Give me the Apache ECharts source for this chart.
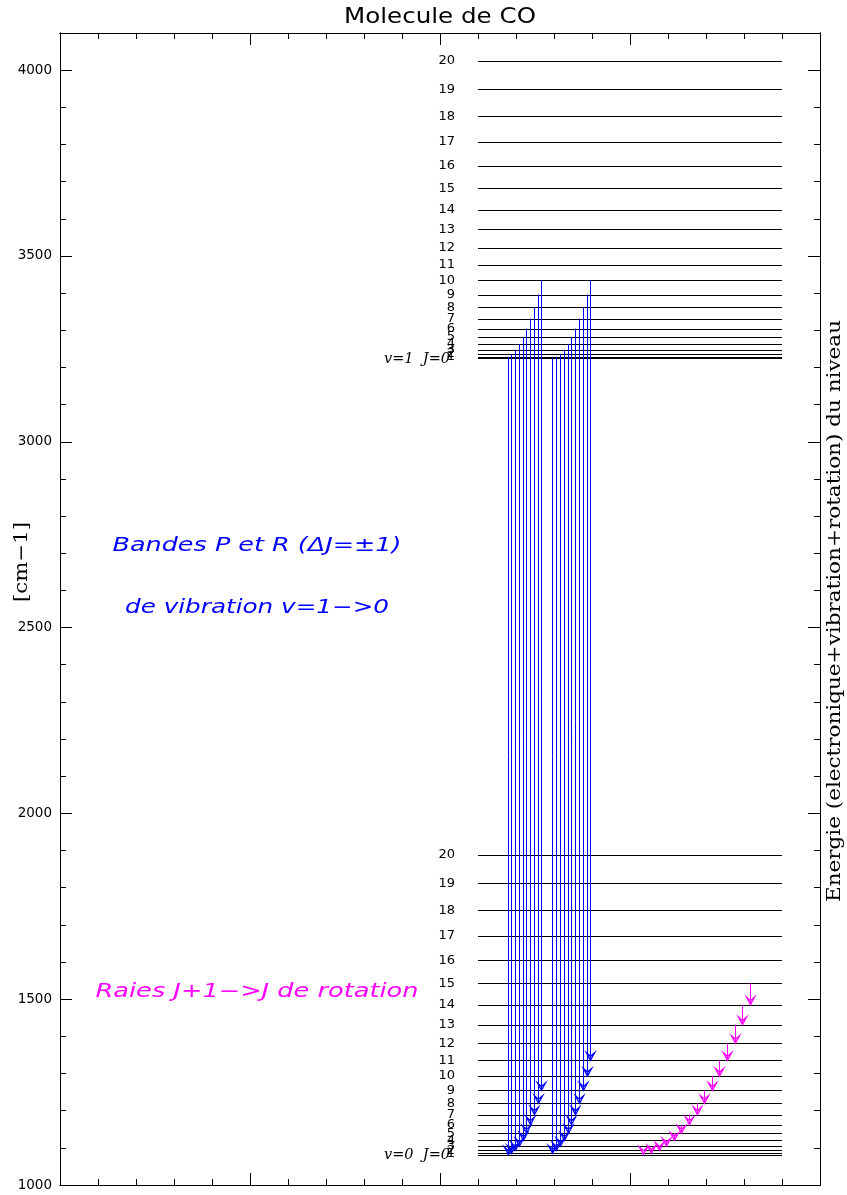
<!DOCTYPE html>
<html><head><meta charset="utf-8">
<script src="https://cdn.jsdelivr.net/npm/echarts@6/dist/echarts.min.js"></script>
<style>html,body{margin:0;padding:0;background:#fff}#c{width:847px;height:1195px}</style>
</head><body><div id="c"></div>
<script>
// ---------- DATA ----------
const J_VALUES = [0,1,2,3,4,5,6,7,8,9,10,11,12,13,14,15,16,17,18,19,20];
// energy of the rotational levels of v=0 (cm-1)
const E_V0 = [1081.6,1085.4,1093.1,1104.7,1120.1,1139.3,1162.3,1189.3,1220.0,1254.6,1293.1,
              1335.4,1381.5,1431.5,1485.3,1543.0,1604.5,1669.9,1739.1,1812.2,1889.1];
// energy of the rotational levels of v=1 (cm-1)
const E_V1 = [3224.7,3228.5,3236.1,3247.6,3262.8,3281.9,3304.7,3331.4,3361.9,3396.2,3434.2,
              3476.2,3521.9,3571.4,3624.8,3681.9,3742.9,3807.6,3876.2,3948.6,4024.8];
// vibrational transitions v=1 J' -> v=0 J'-1
const BRANCH1_UPPER_J = [1,2,3,4,5,6,7,8,9,10];
const BRANCH1_LOWER_J = [0,1,2,3,4,5,6,7,8,9];
// vibrational transitions v=1 J' -> v=0 J'+1
const BRANCH2_UPPER_J = [0,1,2,3,4,5,6,7,8,9,10];
const BRANCH2_LOWER_J = [1,2,3,4,5,6,7,8,9,10,11];
// pure rotation lines in v=0 : J+1 -> J
const ROT_UPPER_J = [1,2,3,4,5,6,7,8,9,10,11,12,13,14,15];
const ROT_LOWER_J = [0,1,2,3,4,5,6,7,8,9,10,11,12,13,14];
const Y_TICK_LABELS = ['1000','1500','2000','2500','3000','3500','4000'];

// ---------- LAYOUT ----------
const Y_MIN = 1000, Y_MAX = 4100;
const X_MIN = 0, X_MAX = 20;
const LEVEL_X0 = 11, LEVEL_X1 = 19;
const B1_X0 = 11.78, B1_DX = 0.099;
const B2_X0 = 12.96, B2_DX = 0.1;
const ROT_X0 = 15.35, ROT_DX = 0.2;
const BLUE = '#0000ff', MAGENTA = '#ff00ff';

const levelData = [];
J_VALUES.forEach((j, i) => { levelData.push([j, E_V0[i], 0]); levelData.push([j, E_V1[i], 1]); });
const b1Data = BRANCH1_UPPER_J.map((ju, i) => [B1_X0 + i * B1_DX, E_V1[ju], E_V0[BRANCH1_LOWER_J[i]]]);
const b2Data = BRANCH2_UPPER_J.map((ju, i) => [B2_X0 + i * B2_DX, E_V1[ju], E_V0[BRANCH2_LOWER_J[i]]]);
const rotData = ROT_UPPER_J.map((ju, i) => [ROT_X0 + i * ROT_DX, E_V0[ju], E_V0[ROT_LOWER_J[i]]]);

const px = v => Math.round(v) + 0.5;

function renderLevel(params, api) {
  const e = api.value(1);
  const a = api.coord([LEVEL_X0, e]), b = api.coord([LEVEL_X1, e]);
  const y = px(a[1]);
  return { type: 'line', shape: { x1: Math.round(a[0]), y1: y, x2: Math.round(b[0]), y2: y },
           style: { stroke: '#000', lineWidth: 1 } };
}
function renderLabel(params, api) {
  const j = api.value(0), e = api.value(1), v = api.value(2);
  const a = api.coord([LEVEL_X0, e]);
  if (j === 0) {
    return { type: 'text', x: a[0] - 28, y: a[1] + 1,
      style: { text: 'v=' + v + '  J=0', textAlign: 'right', textVerticalAlign: 'middle',
               fontFamily: 'DejaVu Serif', fontStyle: 'italic', fontSize: 14.5, fill: '#000' } };
  }
  return { type: 'text', x: a[0] - 23, y: a[1],
    style: { text: String(j), textAlign: 'right', textVerticalAlign: 'middle',
             fontFamily: 'DejaVu Sans', fontSize: 13, fill: '#000' } };
}
function makeArrowRenderer(color) {
  return function (params, api) {
    const x = api.value(0);
    const t = api.coord([x, api.value(1)]), b = api.coord([x, api.value(2)]);
    const cx = px(t[0]), ty = t[1], by = b[1];
    return { type: 'group', children: [
      { type: 'line', shape: { x1: cx, y1: ty, x2: cx, y2: by }, style: { stroke: color, lineWidth: 1 } },
      { type: 'polygon', shape: { points: [[cx, by], [cx - 4, by - 7.5], [cx, by - 4], [cx + 4, by - 7.5]] },
        style: { stroke: color, fill: 'none', lineWidth: 1.3 } }
    ] };
  };
}

const ctx = document.createElement('canvas').getContext('2d');
function fit(text, style, size, family, target) {
  ctx.font = style + ' ' + size + 'px "' + family + '"';
  return target / ctx.measureText(text).width;
}
function textEl(text, x, y, opts) {
  const sc = fit(text, opts.fontStyle || 'normal', opts.fontSize, opts.fontFamily, opts.width);
  return { type: 'text', x: x, y: y, rotation: opts.rotation || 0, scaleX: sc, scaleY: 1,
    style: { text: text, textAlign: 'center', textVerticalAlign: 'middle', fill: opts.color || '#000',
             fontFamily: opts.fontFamily, fontSize: opts.fontSize, fontStyle: opts.fontStyle || 'normal' } };
}

const axisCommon = (interval, len, pos) => ({
  type: 'value', position: pos, interval: interval,
  axisLine: { show: true, onZero: false, lineStyle: { color: '#000', width: 1 } },
  axisTick: { show: true, inside: true, length: len, lineStyle: { color: '#000', width: 1 } },
  splitLine: { show: false }, minorTick: { show: false }
});
const xAxes = [
  Object.assign(axisCommon(5, 12, 'bottom'), { min: X_MIN, max: X_MAX, axisLabel: { show: false } }),
  Object.assign(axisCommon(1, 6, 'bottom'), { min: X_MIN, max: X_MAX, axisLabel: { show: false } }),
  Object.assign(axisCommon(5, 12, 'top'), { min: X_MIN, max: X_MAX, axisLabel: { show: false } }),
  Object.assign(axisCommon(1, 6, 'top'), { min: X_MIN, max: X_MAX, axisLabel: { show: false } })
];
const yAxes = [
  Object.assign(axisCommon(500, 12, 'left'), { min: Y_MIN, max: Y_MAX,
    axisLabel: { show: true, margin: 8, color: '#000', fontFamily: 'DejaVu Sans', fontSize: 13.5,
      showMaxLabel: false,
      formatter: v => { const s = String(v); return Y_TICK_LABELS.indexOf(s) >= 0 ? s : ''; } } }),
  Object.assign(axisCommon(100, 6, 'left'), { min: Y_MIN, max: Y_MAX, axisLabel: { show: false } }),
  Object.assign(axisCommon(500, 12, 'right'), { min: Y_MIN, max: Y_MAX, axisLabel: { show: false } }),
  Object.assign(axisCommon(100, 6, 'right'), { min: Y_MIN, max: Y_MAX, axisLabel: { show: false } })
];

const chart = echarts.init(document.getElementById('c'), null, { renderer: 'canvas' });
chart.setOption({
  animation: false,
  backgroundColor: '#fff',
  grid: { left: 60, right: 27, top: 33, bottom: 10, containLabel: false, outerBoundsMode: 'none' },
  xAxis: xAxes,
  yAxis: yAxes,
  series: [
    { type: 'custom', name: 'levels', renderItem: renderLevel, data: levelData, xAxisIndex: 0, yAxisIndex: 0, clip: false },
    { type: 'custom', name: 'labels', renderItem: renderLabel, data: levelData, xAxisIndex: 0, yAxisIndex: 0, clip: false },
    { type: 'custom', name: 'branch1', renderItem: makeArrowRenderer(BLUE), data: b1Data, xAxisIndex: 0, yAxisIndex: 0 },
    { type: 'custom', name: 'branch2', renderItem: makeArrowRenderer(BLUE), data: b2Data, xAxisIndex: 0, yAxisIndex: 0 },
    { type: 'custom', name: 'rotation', renderItem: makeArrowRenderer(MAGENTA), data: rotData, xAxisIndex: 0, yAxisIndex: 0 }
  ],
  graphic: { elements: [
    textEl('Molecule de CO', 440, 18, { fontFamily: 'DejaVu Sans', fontSize: 21, width: 192 }),
    textEl('[cm\u22121]', 22, 562, { fontFamily: 'DejaVu Serif', fontSize: 19, width: 80, rotation: Math.PI / 2 }),
    textEl('Energie (electronique+vibration+rotation) du niveau', 835, 611,
           { fontFamily: 'DejaVu Serif', fontSize: 18, width: 582, rotation: Math.PI / 2 }),
    textEl('Bandes P et R (\u0394J=\u00b11)', 257, 546,
           { fontFamily: 'DejaVu Sans', fontStyle: 'italic', fontSize: 19, width: 289, color: BLUE }),
    textEl('de vibration v=1\u2212>0', 257, 608,
           { fontFamily: 'DejaVu Sans', fontStyle: 'italic', fontSize: 19, width: 264, color: BLUE }),
    textEl('Raies J+1\u2212>J de rotation', 257, 992,
           { fontFamily: 'DejaVu Sans', fontStyle: 'italic', fontSize: 19, width: 323, color: MAGENTA })
  ] }
});
</script></body></html>
